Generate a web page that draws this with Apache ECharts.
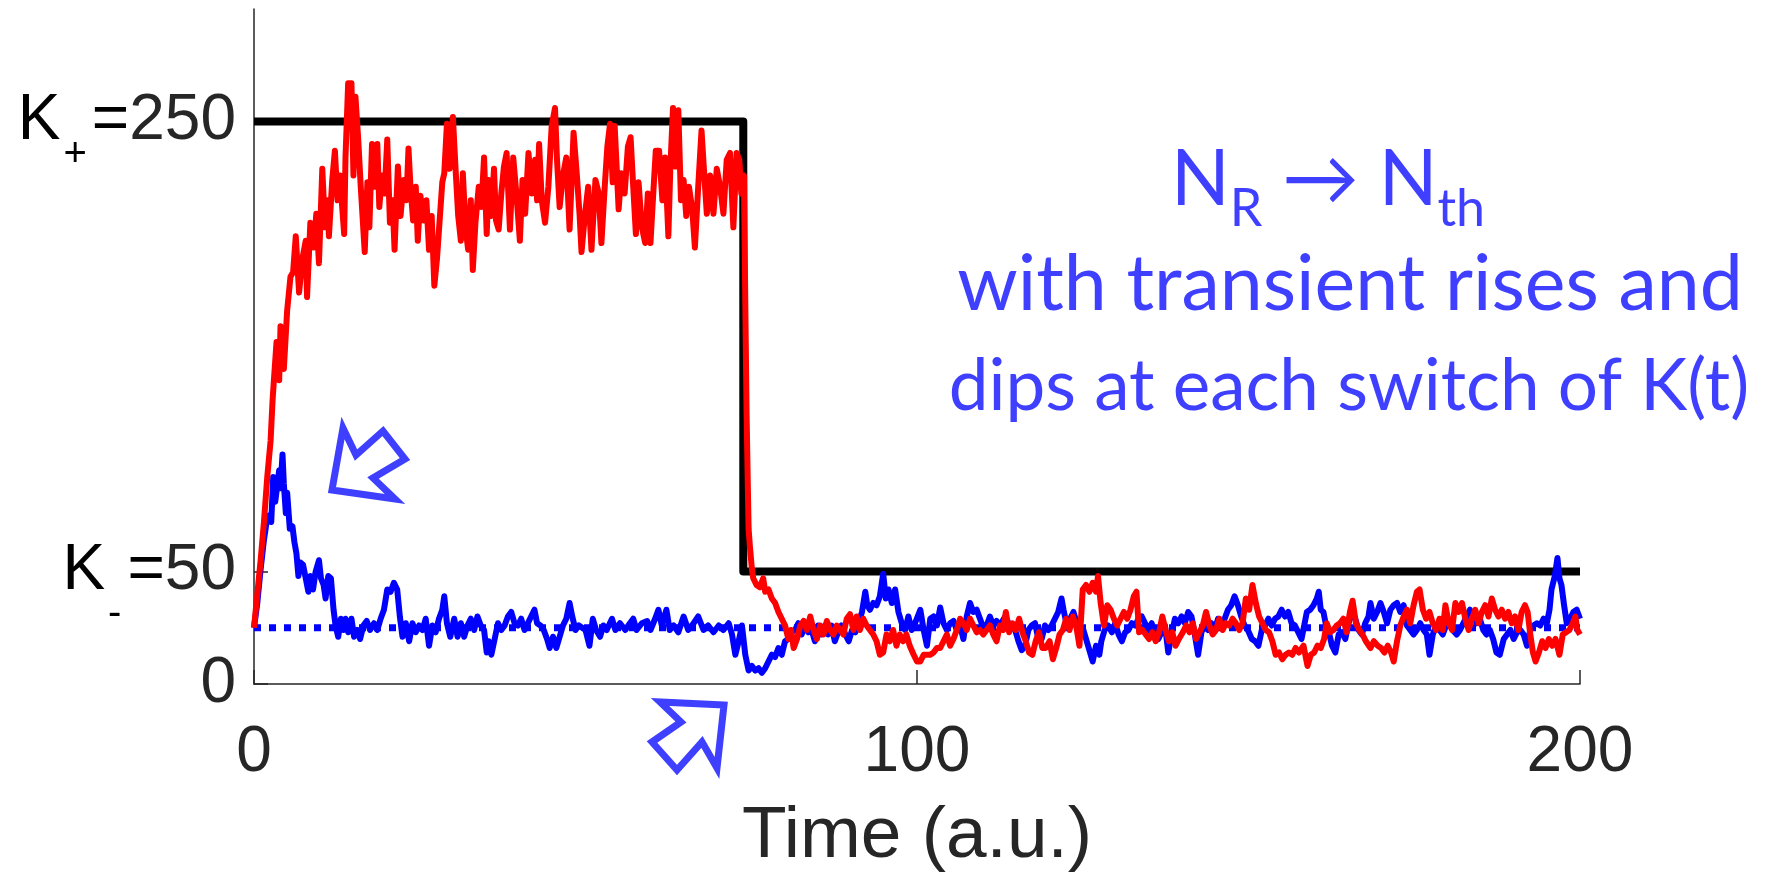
<!DOCTYPE html>
<html><head><meta charset="utf-8">
<script src="https://cdn.jsdelivr.net/npm/echarts@6/dist/echarts.min.js"></script>
<style>html,body{margin:0;padding:0;background:#fff}#c{width:1791px;height:878px}</style>
</head><body><div id="c"></div>
<script>
// Carrying capacity K(t): switch from K+ = 250 to K- = 50
const kTime = [0, 73.8, 73.8, 200];
const kValue = [250, 250, 50, 50];
// threshold N_th
const thTime = [0, 200];
const thValue = [25, 25];
const xTicks = [0, 100, 200];
const yTicks = [0, 50, 250];

// red trajectory (N) : [time, value]
const redPoints = [[0,25],[0.5,40],[1,55],[1.5,72],[2,92],[2.5,108],[2.8,126],[3,135],[3.4,152],[3.8,135],[4,159],[4.5,140],[5,166],[5.5,181],[5.9,183],[6.3,199],[6.8,174],[7.3,189],[7.8,197],[8,172],[8.5,205],[9,194],[9.4,209],[9.8,187],[10.3,229],[10.7,203],[11.1,215],[11.3,199],[11.8,224],[12.2,237],[12.6,215],[13,226],[13.3,212],[13.6,200],[13.8,234],[14.2,267],[14.7,267],[15,226],[15.3,261],[15.7,243],[16.1,221],[16.7,192],[17.1,223],[17.4,203],[17.8,240],[18.2,221],[18.6,240],[18.9,212],[19.3,226],[19.7,218],[20.1,242],[20.5,205],[20.9,215],[21.2,193],[21.7,230],[22.1,208],[22.6,224],[23,215],[23.3,238],[23.6,221],[24,206],[24.4,221],[24.7,197],[25.1,217],[25.6,206],[26,215],[26.4,193],[26.8,208],[27.2,177],[27.6,189],[28,206],[28.4,223],[28.7,227],[29.1,249],[29.5,229],[30,252],[30.4,229],[30.8,208],[31.2,197],[31.5,227],[31.9,203],[32.3,193],[32.7,215],[33,184],[33.4,205],[33.9,221],[34.3,212],[34.7,234],[35.1,200],[35.4,224],[35.8,208],[36.2,229],[36.5,206],[36.9,202],[37.3,218],[37.7,230],[38.1,236],[38.6,202],[39.1,234],[39.6,217],[40.1,197],[40.5,224],[40.9,209],[41.4,236],[41.9,218],[42.4,233],[42.7,215],[43,240],[43.4,215],[43.9,205],[44.4,221],[44.9,248],[45.4,256],[45.7,233],[46.1,212],[46.6,226],[47.1,234],[47.6,202],[48.2,245],[48.7,226],[49.1,209],[49.4,192],[49.9,208],[50.4,221],[50.9,193],[51.5,224],[52,218],[52.4,196],[52.9,221],[53.3,239],[53.7,249],[54.1,223],[54.4,248],[55,211],[55.4,227],[55.9,218],[56.4,239],[56.8,243],[57.2,221],[57.6,200],[58,223],[58.5,203],[59,196],[59.4,218],[59.8,196],[60.2,217],[60.6,237],[61.1,237],[61.6,215],[62,234],[62.5,199],[62.8,230],[63.2,256],[63.6,230],[64,255],[64.4,215],[64.8,224],[65.2,208],[65.6,221],[66.1,211],[66.5,194],[67,221],[67.5,246],[67.9,227],[68.3,209],[68.8,226],[69.3,209],[69.8,229],[70.3,221],[70.8,209],[71.3,233],[71.8,236],[72.3,203],[72.8,236],[73.2,233],[73.5,218],[73.9,226],[74.1,170],[74.3,120],[74.5,85],[74.6,69],[74.8,61],[75.1,51],[75.3,47],[75.8,44],[76.3,43],[76.8,47],[77.1,41],[77.6,42],[78.1,38],[78.6,36],[79.1,32],[79.6,29],[80.1,26],[80.6,20],[81,24],[81.4,16],[81.9,20],[82.4,26],[82.9,28],[83.4,24],[83.9,30],[84.4,24],[84.9,20],[85.4,26],[85.9,22],[86.4,28],[86.9,24],[87.4,22],[87.9,26],[88.4,24],[88.9,22],[89.4,29],[89.9,31],[90.4,24],[90.9,30],[91.4,24],[91.9,29],[92.4,26],[92.9,24],[93.4,22],[93.9,19],[94.4,13],[94.9,14],[95.4,22],[95.9,19],[96.4,24],[96.9,17],[97.4,22],[97.9,19],[98.4,22],[98.9,17],[99.5,13],[100,10],[100.5,10],[101,13],[101.5,13],[102,13],[102.5,14],[103,16],[103.5,16],[104,19],[104.5,22],[105,17],[105.5,20],[106,24],[106.5,29],[107,27],[107.5,24],[108,29],[108.5,26],[109,23],[109.5,24],[110,22],[110.5,24],[111,26],[111.5,22],[112,19],[112.5,26],[113,24],[113.4,32],[113.9,23],[114.4,27],[114.9,24],[115.4,29],[115.9,23],[116.4,19],[116.9,14],[117.4,13],[117.9,19],[118.4,23],[118.9,16],[119.4,16],[120,19],[120.5,11],[121,16],[121.5,22],[122,24],[122.5,29],[123,24],[123.5,30],[124,26],[124.5,17],[125,42],[125.5,44],[126,41],[126.5,45],[127,41],[127.3,48],[127.7,36],[128.2,26],[128.7,35],[129.2,33],[129.7,29],[130.2,26],[130.7,29],[131.2,32],[131.7,29],[132.2,33],[132.7,39],[133.1,41],[133.5,23],[134,24],[134.5,22],[135,20],[135.5,23],[136,19],[136.5,23],[137,30],[137.5,24],[138,19],[138.5,23],[139,17],[139.5,20],[140.1,23],[140.6,26],[141.1,23],[141.6,27],[142.1,20],[142.6,23],[143.1,26],[143.6,32],[144.1,26],[144.6,22],[145.1,24],[145.6,29],[146.1,24],[146.6,27],[147.1,26],[147.6,29],[148.1,27],[148.6,24],[149.1,27],[149.6,38],[150.1,33],[150.6,44],[151.1,36],[151.6,30],[152.1,27],[152.6,24],[153.1,23],[153.6,19],[154.1,13],[154.6,14],[155.1,11],[155.6,13],[156.1,14],[156.6,13],[157.1,16],[157.6,14],[158.3,17],[158.9,8],[159.4,13],[159.9,14],[160.4,17],[160.9,16],[161.4,20],[161.8,27],[162.3,23],[162.8,24],[163.3,26],[163.8,27],[164.3,29],[164.8,23],[165.3,32],[165.7,37],[166.2,27],[166.7,24],[167.2,22],[167.7,19],[168.4,16],[168.9,19],[169.5,17],[170,16],[170.5,14],[171,17],[171.5,14],[171.9,10],[172.4,19],[172.9,26],[173.4,30],[173.9,33],[174.4,27],[174.9,35],[175.4,41],[175.8,42],[176.3,33],[176.8,29],[177.3,32],[177.8,27],[178.3,24],[178.8,29],[179.3,24],[179.7,35],[180.2,27],[180.7,24],[181.2,36],[181.7,32],[182.2,36],[182.7,29],[183.2,24],[183.7,29],[184.2,33],[184.7,27],[185.2,32],[185.7,35],[186.2,30],[186.7,38],[187.2,33],[187.7,30],[188.2,33],[188.7,29],[189.2,32],[189.7,27],[190.2,30],[190.7,24],[191.2,32],[191.7,35],[192.1,32],[192.5,22],[192.9,14],[193.3,10],[193.8,14],[194.3,19],[194.8,16],[195.3,20],[195.8,17],[196.3,20],[196.9,13],[197.4,22],[197.9,23],[198.4,24],[198.9,27],[199.3,30],[199.6,24],[200,22]];

// blue trajectory (N_R) : [time, value]
const bluePoints = [[0,25],[0.5,36],[1,51],[1.5,64],[1.9,72],[2.3,75],[2.6,72],[2.9,92],[3.2,81],[3.5,88],[3.8,95],[4,87],[4.3,102],[4.5,89],[4.8,76],[5,85],[5.4,69],[5.8,70],[6.1,63],[6.4,58],[6.7,48],[7,54],[7.4,53],[7.8,47],[8.2,41],[8.5,48],[8.9,42],[9.3,50],[9.8,55],[10.1,47],[10.5,44],[10.8,38],[11.2,48],[11.6,47],[12,33],[12.3,26],[12.7,21],[13.1,29],[13.5,24],[13.8,29],[14.2,23],[14.7,29],[15.1,21],[15.6,24],[16,20],[16.5,26],[17,28],[17.5,24],[18.1,27],[18.6,24],[19.1,29],[19.6,33],[20.1,42],[20.6,41],[21.1,45],[21.6,42],[22,30],[22.4,21],[22.9,27],[23.4,19],[23.9,27],[24.4,23],[24.9,26],[25.4,24],[25.9,29],[26.4,17],[26.9,26],[27.4,23],[27.9,29],[28.4,33],[28.7,39],[29.1,27],[29.6,21],[30.2,29],[30.7,21],[31.2,27],[31.7,21],[32.2,26],[32.7,29],[33.2,24],[33.7,30],[34.2,26],[34.7,24],[35.1,14],[35.4,19],[35.8,13],[36.3,20],[36.8,27],[37.3,24],[37.8,26],[38.3,30],[38.8,32],[39.3,27],[39.8,26],[40.3,29],[40.8,24],[41.3,27],[41.8,30],[42.3,33],[42.7,27],[43.2,26],[43.7,24],[44.2,20],[44.6,16],[45.1,21],[45.6,16],[46.1,21],[46.6,26],[47.1,29],[47.6,36],[48,30],[48.5,24],[49,26],[49.5,25],[50,24],[50.6,17],[51.1,29],[51.6,24],[52.2,21],[52.7,26],[53.2,24],[54,29],[54.5,24],[55.2,27],[56,24],[56.7,27],[57.2,29],[57.7,24],[58.5,27],[59.3,28],[59.8,24],[60.5,29],[61,33],[61.5,26],[62.2,33],[62.7,24],[63.3,26],[64,23],[64.8,30],[65.5,24],[66.3,27],[67,30],[67.8,24],[68.5,26],[69.3,23],[70.1,26],[70.8,24],[71.6,27],[72.1,22],[72.6,13],[73.1,19],[73.6,26],[74.1,13],[74.6,6],[75.1,8],[75.6,6],[76.1,7],[76.6,5],[77.1,7],[77.6,10],[78.1,13],[78.6,12],[79.1,16],[79.6,13],[80.1,19],[80.6,20],[81.1,23],[81.6,24],[82.1,27],[82.6,22],[83.1,26],[83.6,23],[84.1,24],[84.6,19],[85.1,26],[85.6,22],[86.1,26],[86.6,22],[87.1,26],[87.6,19],[88.1,23],[88.6,26],[89.2,22],[89.7,19],[90.2,24],[90.7,23],[91.2,27],[91.7,32],[92.2,41],[92.5,35],[92.9,33],[93.4,36],[93.9,35],[94.4,39],[94.9,49],[95.3,38],[95.7,42],[96.2,36],[96.7,42],[97.2,32],[97.7,27],[98.2,24],[98.7,30],[99.2,24],[99.7,27],[100.5,33],[101,24],[101.5,17],[102,29],[102.5,30],[103,26],[103.5,34],[104,27],[104.5,24],[105,27],[105.5,28],[106,24],[106.5,26],[107,20],[107.5,30],[108,36],[108.5,32],[109,33],[109.5,29],[110,25],[110.5,26],[111,30],[111.5,26],[112,28],[112.5,26],[113.3,30],[114,26],[114.8,24],[115.3,19],[115.8,15],[116.3,17],[116.8,24],[117.3,26],[117.8,27],[118.3,20],[118.8,20],[119.3,26],[119.8,24],[120.3,26],[120.8,29],[121.3,32],[121.8,38],[122.1,33],[122.6,26],[123.1,29],[123.6,32],[124.1,27],[124.6,26],[125.1,24],[125.6,19],[126.1,14],[126.5,10],[127,17],[127.5,13],[127.8,19],[128.3,24],[128.8,26],[129.4,23],[129.9,27],[130.4,22],[130.9,19],[131.4,23],[131.9,24],[132.4,27],[132.9,26],[133.4,29],[133.9,30],[134.4,27],[134.9,24],[135.4,27],[135.9,22],[136.4,20],[136.9,23],[137.4,26],[137.9,14],[138.4,22],[138.9,29],[139.4,27],[139.9,30],[140.4,27],[140.9,32],[141.4,30],[141.9,22],[142.4,13],[142.9,23],[143.4,26],[143.9,24],[144.4,27],[144.9,24],[145.4,29],[145.9,27],[146.4,29],[146.9,33],[147.4,35],[147.9,39],[148.4,35],[148.9,30],[149.4,26],[149.9,24],[150.5,20],[151,19],[151.5,17],[152,24],[152.5,26],[153,29],[153.5,26],[154,29],[154.5,30],[155,33],[155.5,30],[156,32],[156.5,27],[157,26],[157.5,23],[158,20],[158.8,32],[159.3,33],[159.8,35],[160.3,38],[160.6,41],[160.9,33],[161.3,32],[161.7,26],[162.2,22],[162.6,17],[163.1,14],[163.6,22],[164.1,23],[164.6,20],[165.1,27],[165.6,33],[166.1,29],[166.6,24],[167.1,22],[167.6,27],[168.1,30],[168.4,36],[168.9,29],[169.4,32],[169.9,36],[170.4,32],[170.9,27],[171.4,33],[171.9,35],[172.4,36],[172.9,32],[173.4,35],[173.9,26],[174.4,24],[174.9,22],[175.4,24],[175.9,27],[176.4,24],[176.9,22],[177.3,13],[177.8,22],[178.3,26],[178.8,24],[179.3,22],[179.8,26],[180.3,27],[180.8,24],[181.4,22],[181.9,24],[182.4,27],[182.9,30],[183.4,33],[183.9,30],[184.4,27],[184.9,29],[185.4,24],[185.9,22],[186.4,24],[186.9,20],[187.4,14],[187.9,13],[188.5,20],[189,22],[189.5,24],[190,20],[190.5,23],[191,24],[191.5,22],[192,17],[192.5,24],[193,26],[193.5,27],[194,26],[194.5,29],[195,27],[195.4,33],[195.7,42],[196.2,48],[196.6,56],[196.9,47],[197.2,44],[197.6,35],[198,27],[198.5,29],[199,32],[199.5,33],[200,29]];

const ANN = '#3f3fff';
const AX = '#262626';
const kData = kTime.map((t, i) => [t, kValue[i]]);
const thData = thTime.map((t, i) => [t, thValue[i]]);

const chart = echarts.init(document.getElementById('c'), null, {renderer: 'canvas'});
const latoF = 'Lato, "DejaVu Sans", sans-serif';
const option = {
  animation: false,
  backgroundColor: '#fff',
  grid: {left: 254, right: 211, top: 9, bottom: 193},
  xAxis: {
    type: 'value', min: 0, max: 200, interval: 100,
    name: 'Time (a.u.)', nameLocation: 'middle', nameGap: 116,
    nameTextStyle: {fontFamily: 'Liberation Sans', fontSize: 73, color: AX},
    axisLine: {show: true, onZero: false, lineStyle: {color: AX, width: 1.5}},
    axisTick: {show: true, inside: true, length: 14, customValues: xTicks, lineStyle: {color: AX, width: 1.5}},
    axisLabel: {fontFamily: 'Liberation Sans', fontSize: 64, color: AX, margin: 37, customValues: xTicks},
    splitLine: {show: false}
  },
  yAxis: {
    type: 'value', min: 0, max: 300, interval: 50,
    axisLine: {show: true, onZero: false, lineStyle: {color: AX, width: 1.5}},
    axisTick: {show: true, inside: true, length: 14, customValues: yTicks, lineStyle: {color: AX, width: 1.5}},
    axisLabel: {
      margin: 18, customValues: yTicks,
      formatter: function (v) {
        if (v === 250) return '{k|K}{sp|+}{k|=}{d|250}';
        if (v === 50) return '{k|K}{sm|-}{k|=}{d|50}';
        if (v === 0) return '{d|0}';
        return '';
      },
      rich: {
        k: {fontFamily: 'Liberation Sans', fontSize: 64, lineHeight: 72, color: '#000'},
        d: {fontFamily: 'Liberation Sans', fontSize: 64, lineHeight: 72, color: AX},
        sp: {fontFamily: 'Liberation Sans', fontSize: 40, lineHeight: 10, verticalAlign: 'top', padding: [49, 5, 0, 3], color: '#000'},
        sm: {fontFamily: 'Liberation Sans', fontSize: 40, lineHeight: 10, verticalAlign: 'top', padding: [58, 6, 0, 3], color: '#000'}
      }
    },
    splitLine: {show: false}
  },
  series: [
    {type: 'line', data: kData, showSymbol: false, symbol: 'none', lineStyle: {color: '#000', width: 8, cap: 'butt', join: 'round'}, z: 2},
    {type: 'line', data: thData, showSymbol: false, symbol: 'none', lineStyle: {color: '#0000ff', width: 7, type: [7, 8], cap: 'butt'}, z: 2},
    {type: 'line', data: bluePoints, showSymbol: false, symbol: 'none', lineStyle: {color: '#0000ff', width: 6, join: 'round'}, z: 2},
    {type: 'line', data: redPoints, showSymbol: false, symbol: 'none', lineStyle: {color: '#ff0000', width: 6, join: 'round'}, z: 2}
  ],
  graphic: [
    {type: 'text', x: 1328, y: 180, z: 10, style: {
      text: '{n|N}{s|R}{n| → N}{s|th}', align: 'center', verticalAlign: 'middle', fill: ANN,
      rich: {
        n: {fontFamily: latoF, fontSize: 77, lineHeight: 96, fill: ANN, color: ANN},
        s: {fontFamily: latoF, fontSize: 52, lineHeight: 10, verticalAlign: 'top', padding: [51, 0, 0, 0], fill: ANN, color: ANN}
      }
    }},
    {type: 'text', x: 1350, y: 285, z: 10, style: {
      text: 'with transient rises and', align: 'center', verticalAlign: 'middle', fill: ANN,
      font: '77px Lato'
    }},
    {type: 'text', x: 1349, y: 387, z: 10, style: {
      text: 'dips at each switch of K(t)', align: 'center', verticalAlign: 'middle', fill: ANN,
      font: '71px Lato'
    }},
    {type: 'polygon', z: 10, shape: {points: [[332,490],[343,428],[356,455],[383,431],[405,459],[373,478],[395,499]]},
      style: {fill: null, stroke: ANN, lineWidth: 7, lineJoin: 'miter'}},
    {type: 'polygon', z: 10, shape: {points: [[724,705],[660,702],[681,722],[652,742],[677,770],[702,742],[717,768]]},
      style: {fill: null, stroke: ANN, lineWidth: 7, lineJoin: 'miter'}}
  ]
};
chart.setOption(option);
</script></body></html>
